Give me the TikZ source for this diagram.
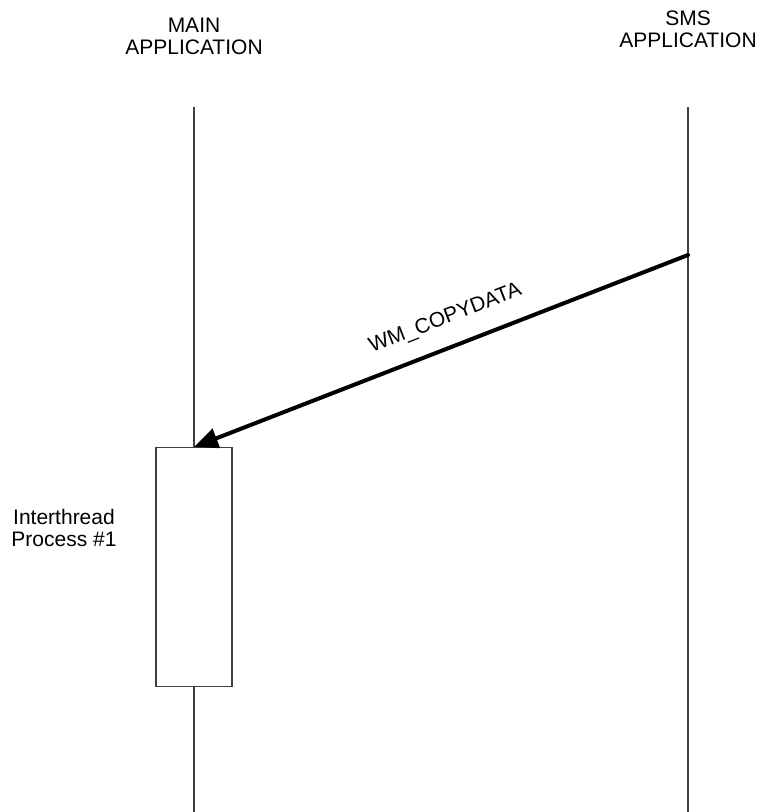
\documentclass[tikz,border=0pt]{standalone}
\usepackage{fontspec}
\setmainfont{Liberation Sans}
\usetikzlibrary{arrows.meta}

\begin{document}
\begin{tikzpicture}[x=1pt, y=-1pt,
  every node/.style={font=\fontsize{21}{22}\selectfont, text=black},
  headlabel/.style={align=center, inner sep=0pt},
  lifeline/.style={draw=black!75, line width=1.1pt},
  activation/.style={draw=black!75, line width=1.1pt, fill=white,
    minimum width=76pt, minimum height=239pt, inner sep=0pt},
  message/.style={draw=black, line width=4pt, line cap=round,
    -{Triangle[length=24pt, width=20pt]}},
]
  \useasboundingbox (0,0) rectangle (759,812);

  % participant headings
  \node[headlabel] (mainHead) at (194,36.5) {MAIN\\APPLICATION};
  \node[headlabel] (smsHead)  at (688,29.5) {SMS\\APPLICATION};

  % lifelines
  \coordinate (mainTop) at (194,107);
  \coordinate (mainBot) at (194,812);
  \coordinate (smsTop)  at (688,107);
  \coordinate (smsBot)  at (688,812);
  \draw[lifeline] (mainTop) -- (mainBot);
  \draw[lifeline] (smsTop) -- (smsBot);

  % activation bar on the main application
  \node[activation, anchor=north] (act) at (194,447) {};
  \node[headlabel] (actLabel) at (64,527.5) {Interthread\\Process \#1};

  % message from the SMS application
  \coordinate (smsSend) at (688,255);
  \draw[message] (smsSend) -- (act.north)
    node[pos=0.47, sloped, above=17pt, inner sep=0pt] (msgLabel) {WM\_COPYDATA};
\end{tikzpicture}
\end{document}
